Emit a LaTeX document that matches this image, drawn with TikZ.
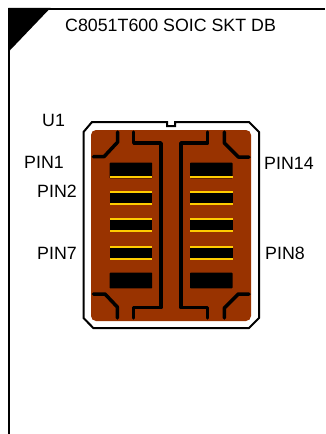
\documentclass[tikz,border=0pt]{standalone}
\usepackage{fontspec}
\setmainfont{Liberation Sans}
\definecolor{board}{HTML}{993300}
\definecolor{gold}{HTML}{FFCC00}
\tikzset{
  lbl/.style={inner sep=0pt,anchor=base west,font=\fontsize{17.8}{20}\selectfont},
  silk/.style={draw=black,line width=3.5pt,line cap=round,line join=round},
  padblack/.style={fill=black,rounded corners=0.6pt},
}
\newcommand{\goldpad}[2]{% x, ytop
  \fill[gold] (#1,#2) rectangle ++(42.5,14.4);
  \fill[black] (#1,#2+2.1) rectangle ++(42.5,10.2);
}
\begin{document}
\begin{tikzpicture}[x=1pt,y=-1pt]
\useasboundingbox (0,0) rectangle (325,434);
\fill[white] (0,0) rectangle (325,434);
% frame
\draw[line width=2pt] (9.3,434) -- (9.3,8.7) -- (325,8.7);
\fill[black] (8.3,7.9) -- (50.5,7.9) -- (9.3,51) -- (8.3,51) -- cycle;
% socket outline
\draw[line width=2pt,line join=miter] (92,122) -- (167,122) -- (167,126) -- (175,126) -- (175,122) -- (249,122) -- (259,132) -- (259,318) -- (249,328) -- (93.3,328) -- (83.5,318) -- (83.5,132) -- cycle;
% board
\fill[board,rounded corners=5pt] (91,130) rectangle (251,321);
% pads
\foreach \px in {109.7,190}{
  \fill[padblack] (\px,162.7) rectangle ++(42.5,15.6);
  \fill[gold] (\px,176.2) rectangle ++(42.5,2.2);
  \goldpad{\px}{190.8}
  \goldpad{\px}{217.8}
  \goldpad{\px}{245.5}
  \fill[padblack] (\px,272.7) rectangle ++(42.5,15.6);
}
% silk
\draw[silk] (117.7,132) -- (117.7,142) -- (104,156.7) -- (93.3,156.7);
\draw[silk] (133.7,132) -- (133.7,143) -- (161,143) -- (161,307.7) -- (133.7,307.7) -- (133.7,318);
\draw[silk] (207.7,132) -- (207.7,143) -- (181,143) -- (181,307.7) -- (207.7,307.7) -- (207.7,318);
\draw[silk] (224.3,132) -- (224.3,143) -- (238.3,157) -- (249,157);
\draw[silk] (93.3,294) -- (105,294) -- (117.3,307) -- (117.3,318);
\draw[silk] (249,294) -- (238.3,294) -- (224.3,308) -- (224.3,318);
% labels
\node[lbl] (title) at (65,31) {C8051T600 SOIC SKT DB};
\node[lbl] (u1) at (42,126) {U1};
\node[lbl] (p1) at (24,168.5) {PIN1};
\node[lbl] (p2) at (37,197) {PIN2};
\node[lbl] (p7) at (37,259.5) {PIN7};
\node[lbl] (p14) at (264,169) {PIN14};
\node[lbl] (p8) at (265,259.5) {PIN8};
\end{tikzpicture}
\end{document}
